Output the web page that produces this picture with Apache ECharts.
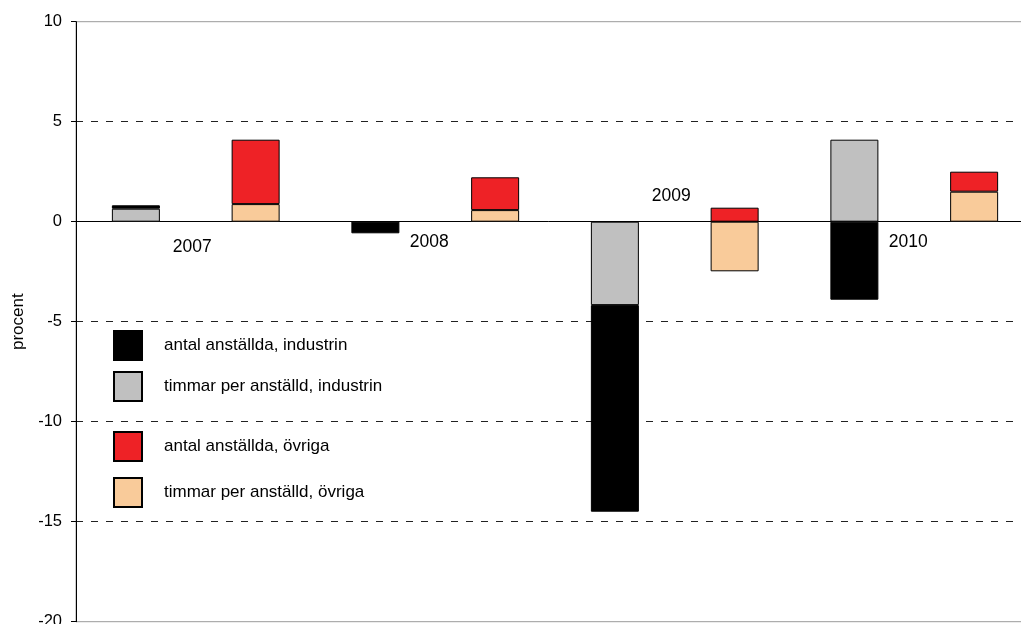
<!DOCTYPE html>
<html>
<head>
<meta charset="utf-8">
<script src="https://cdn.jsdelivr.net/npm/echarts@6/dist/echarts.min.js"></script>
<style>
html,body{margin:0;padding:0;background:#fff;}
#chart{width:1021px;height:624px;}
</style>
</head>
<body>
<div id="chart"></div>
<script>
// ---- data ----
const years = ['2007', '2008', '2009', '2010'];
const timmarIndustrin = [0.65, 0, -4.17, 4.1];
const antalIndustrin = [0.17, -0.58, -10.33, -3.9];
const timmarOvriga = [0.88, 0.58, -2.48, 1.5];
const antalOvriga = [3.22, 1.64, 0.7, 1.0];
const yTicks = { min: -20, max: 10, interval: 5 };
const seriesNames = [
  'antal anställda, industrin',
  'timmar per anställd, industrin',
  'antal anställda, övriga',
  'timmar per anställd, övriga'
];
// year label anchors (slot units, value units)
const yearLabelX = [0.47, 2.45, 4.47, 6.45];
const yearLabelY = [-1.25, -1.0, 1.29, -1.0];

// ---- build 8 slots: industry, other per year ----
const slots = [];
years.forEach(y => { slots.push(y + ' industrin'); slots.push(y + ' övriga'); });
function industrySlots(arr) { const o = []; arr.forEach(v => { o.push(v); o.push(null); }); return o; }
function otherSlots(arr) { const o = []; arr.forEach(v => { o.push(null); o.push(v); }); return o; }

const colors = {
  black: '#000000',
  gray: '#C0C0C0',
  red: '#EE2226',
  peach: '#F9CB9A'
};
const barCommon = {
  type: 'bar', stack: 'all', barWidth: 48,
  xAxisIndex: 0, yAxisIndex: 0
};
const chart = echarts.init(document.getElementById('chart'), null, { renderer: 'canvas' });
const legendTops = [330, 371, 431, 477];
const option = {
  animation: false,
  backgroundColor: '#ffffff',
  textStyle: { fontFamily: 'Liberation Sans, Arial, sans-serif' },
  grid: {
    left: 76, top: 21.7, width: 958, height: 600,
    outerBoundsMode: 'none', containLabel: false,
    show: true, borderColor: '#9a9a9a', borderWidth: 1, backgroundColor: 'transparent'
  },
  legend: seriesNames.map((n, i) => ({
    data: [n], left: 113, top: legendTops[i], orient: 'vertical', padding: 0,
    itemWidth: 28, itemHeight: 29, icon: 'rect',
    textStyle: { fontSize: 17, color: '#000', padding: [0, 0, 0, 17], fontFamily: 'Liberation Sans, Arial, sans-serif' }
  })),
  xAxis: [
    {
      type: 'category', data: slots,
      axisLine: { onZero: true, lineStyle: { color: '#000', width: 1 } },
      axisTick: { show: false }, axisLabel: { show: false }, splitLine: { show: false }
    },
    { type: 'value', min: -0.5, max: 7.5, show: false }
  ],
  yAxis: {
    type: 'value', min: yTicks.min, max: yTicks.max, interval: yTicks.interval,
    name: 'procent', nameLocation: 'middle', nameGap: 48, nameRotate: 90,
    nameTextStyle: { fontSize: 17, color: '#000' },
    axisLine: { show: true, onZero: false, lineStyle: { color: '#000', width: 1 } },
    axisTick: { show: true, length: 5, lineStyle: { color: '#000' } },
    axisLabel: { fontSize: 16.5, color: '#000', margin: 14 },
    splitLine: {
      show: true, showMinLine: false, showMaxLine: false,
      lineStyle: { color: '#222', type: [7, 8], width: 1 }
    }
  },
  series: [
    Object.assign({}, barCommon, {
      name: seriesNames[1], data: industrySlots(timmarIndustrin),
      itemStyle: { color: colors.gray, borderColor: '#000', borderWidth: 1 }
    }),
    Object.assign({}, barCommon, {
      name: seriesNames[0], data: industrySlots(antalIndustrin),
      itemStyle: { color: colors.black, borderColor: '#000', borderWidth: 1 }
    }),
    Object.assign({}, barCommon, {
      name: seriesNames[3], data: otherSlots(timmarOvriga),
      itemStyle: { color: colors.peach, borderColor: '#000', borderWidth: 1 }
    }),
    Object.assign({}, barCommon, {
      name: seriesNames[2], data: otherSlots(antalOvriga),
      itemStyle: { color: colors.red, borderColor: '#000', borderWidth: 1 }
    }),
    {
      type: 'scatter', xAxisIndex: 1, yAxisIndex: 0, symbolSize: 2, silent: true,
      data: years.map((y, i) => ({ value: [yearLabelX[i], yearLabelY[i]], name: y })),
      label: {
        show: true, position: 'inside', formatter: p => p.name, opacity: 1,
        fontSize: 17.5, color: '#000', fontFamily: 'Liberation Sans, Arial, sans-serif'
      },
      itemStyle: { color: 'rgba(255,255,255,0)', opacity: 1 },
      z: 5
    }
  ]
};
chart.setOption(option);
</script>
</body>
</html>
